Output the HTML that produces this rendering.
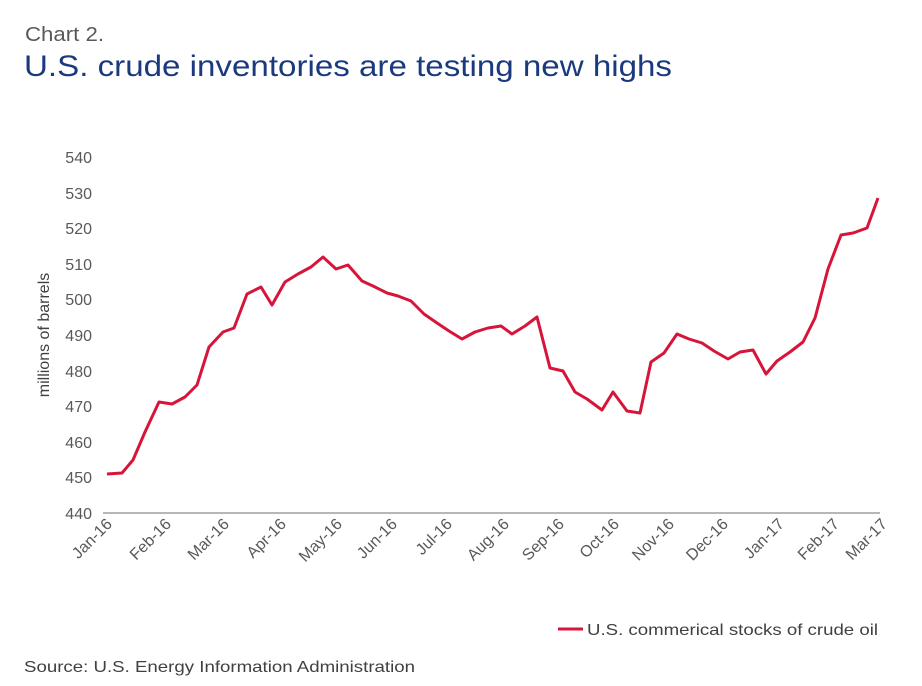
<!DOCTYPE html>
<html><head><style>
body{margin:0;background:#fff;}
svg{display:block;font-family:"Liberation Sans",Arial,sans-serif;}
</style></head><body>
<svg width="922" height="686" viewBox="0 0 922 686">
<text x="25" y="41" font-size="20" fill="#595959" textLength="79" lengthAdjust="spacingAndGlyphs">Chart 2.</text>
<text x="24" y="76" font-size="30" fill="#1b3a7e" textLength="648" lengthAdjust="spacingAndGlyphs">U.S. crude inventories are testing new highs</text>
<g font-size="16" fill="#595959" text-anchor="end">
<text x="92" y="163">540</text><text x="92" y="199">530</text><text x="92" y="234">520</text>
<text x="92" y="270">510</text><text x="92" y="305">500</text><text x="92" y="341">490</text>
<text x="92" y="377">480</text><text x="92" y="412">470</text><text x="92" y="448">460</text>
<text x="92" y="483">450</text><text x="92" y="519">440</text>
</g>
<text transform="translate(49,335) rotate(-90)" font-size="16" fill="#404040" text-anchor="middle">millions of barrels</text>
<line x1="103" y1="513" x2="880" y2="513" stroke="#8c8c8c" stroke-width="1.3"/>
<g font-size="16" fill="#595959" text-anchor="end">
<text transform="translate(113,525) rotate(-45)">Jan-16</text>
<text transform="translate(172,525) rotate(-45)">Feb-16</text>
<text transform="translate(230,525) rotate(-45)">Mar-16</text>
<text transform="translate(287,525) rotate(-45)">Apr-16</text>
<text transform="translate(343,525) rotate(-45)">May-16</text>
<text transform="translate(398,525) rotate(-45)">Jun-16</text>
<text transform="translate(453,525) rotate(-45)">Jul-16</text>
<text transform="translate(510,525) rotate(-45)">Aug-16</text>
<text transform="translate(565,525) rotate(-45)">Sep-16</text>
<text transform="translate(620,525) rotate(-45)">Oct-16</text>
<text transform="translate(675,525) rotate(-45)">Nov-16</text>
<text transform="translate(729,525) rotate(-45)">Dec-16</text>
<text transform="translate(785,525) rotate(-45)">Jan-17</text>
<text transform="translate(840,525) rotate(-45)">Feb-17</text>
<text transform="translate(888,525) rotate(-45)">Mar-17</text>
</g>
<polyline fill="none" stroke="#d7153a" stroke-width="3" stroke-linejoin="round" points="107,474 122,473 133,460 145,432 159,402 172,404 185,397 197,385 209,347 223,332 234,328 247,294 261,287 272,305 285,282 298,274 311,267 323,257 336,269 348,265 362,281 373,286 387,293 398,296 411,301 424,314 437,323 449,331 462,339 475,332 488,328 501,326 512,334 525,326 537,317 550,368 563,371 575,392 587,399 602,410 613,392 627,411 640,413 651,362 664,353 677,334 689,339 702,343 714,351 728,359 740,352 753,350 766,374 777,361 790,352 803,342 815,318 828,269 841,235 853,233 867,228 878,198"/>
<line x1="558" y1="629" x2="583" y2="629" stroke="#d7153a" stroke-width="3"/>
<text x="587" y="635" font-size="16" fill="#404040" textLength="291" lengthAdjust="spacingAndGlyphs">U.S. commerical stocks of crude oil</text>
<text x="24" y="672" font-size="16" fill="#404040" textLength="391" lengthAdjust="spacingAndGlyphs">Source: U.S. Energy Information Administration</text>
</svg>
</body></html>
